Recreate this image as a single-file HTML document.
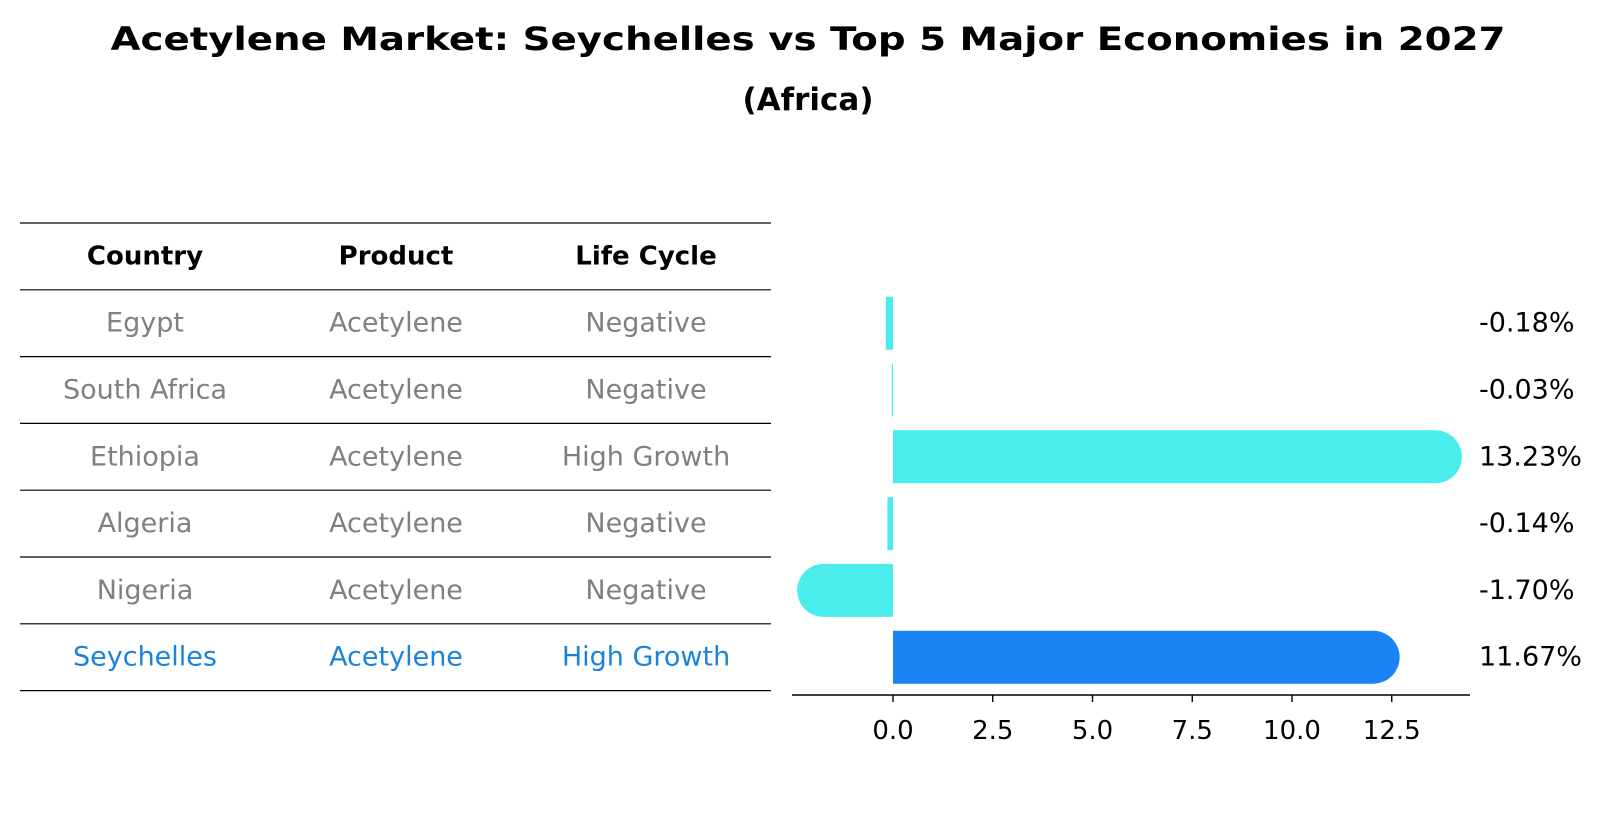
<!DOCTYPE html>
<html><head><meta charset="utf-8"><style>
html,body{margin:0;padding:0;background:#fff;}
svg{display:block;font-family:"DejaVu Sans","Liberation Sans",sans-serif;}
</style></head><body>
<svg width="1604" height="823" viewBox="0 0 1604 823">
<text x="808" y="50" text-anchor="middle" font-size="32" font-weight="bold" textLength="1395" lengthAdjust="spacingAndGlyphs">Acetylene Market: Seychelles vs Top 5 Major Economies in 2027</text>
<text x="808" y="110" text-anchor="middle" font-size="31" font-weight="bold">(Africa)</text>
<g id="table"></g>
<g id="bars"></g>
</svg>
<script>
const countries = ["Egypt","South Africa","Ethiopia","Algeria","Nigeria","Seychelles"];
const products = ["Acetylene","Acetylene","Acetylene","Acetylene","Acetylene","Acetylene"];
const lifeCycles = ["Negative","Negative","High Growth","Negative","Negative","High Growth"];
const values = [-0.18,-0.03,13.23,-0.14,-1.70,11.67];
const valueLabels = ["-0.18%","-0.03%","13.23%","-0.14%","-1.70%","11.67%"];
const xTicks = [0,2.5,5,7.5,10,12.5];
const xTickLabels = ["0.0","2.5","5.0","7.5","10.0","12.5"];

const NS="http://www.w3.org/2000/svg";
function mk(tag,attrs,parent){const e=document.createElementNS(NS,tag);for(const k in attrs)e.setAttribute(k,attrs[k]);parent.appendChild(e);return e;}
const table=document.getElementById('table');
const bars=document.getElementById('bars');
const rowTop=223, rowH=66.8, tx0=20, tx1=771;
const colX=[145,396,646];
for(let i=0;i<=countries.length+1;i++){
  const y=rowTop+i*rowH;
  const l=mk('line',{x1:tx0,x2:tx1,y1:y,y2:y,stroke:'#000','stroke-width':1.2},table);
  
  
}
const headers=["Country","Product","Life Cycle"];
headers.forEach((h,j)=>{
  const t=mk('text',{x:colX[j],y:rowTop+rowH/2,'text-anchor':'middle','dominant-baseline':'central','font-size':26,'font-weight':'bold',fill:'#000'},table);
  t.textContent=h;
  
  
});
countries.forEach((c,i)=>{
  const y=rowTop+(i+1.5)*rowH;
  const col=c==="Seychelles"?'#1a84dc':'#808080';
  [c,products[i],lifeCycles[i]].forEach((v,j)=>{
    const t=mk('text',{x:colX[j],y:y,'text-anchor':'middle','dominant-baseline':'central','font-size':27,fill:col},table);
    t.textContent=v;
    
    
  });
});
const x0=893, pxPerUnit=39.9;
function xs(v){return x0+v*pxPerUnit;}
const barH=53, axisY=695;
const ax=mk('line',{x1:792,x2:1470,y1:axisY,y2:axisY,stroke:'#000','stroke-width':1.6},bars);


xTicks.forEach((t,i)=>{
  const tk=mk('line',{x1:xs(t),x2:xs(t),y1:axisY,y2:axisY+7,stroke:'#000','stroke-width':1.4},bars);
  
  
  const lb=mk('text',{x:xs(t),y:731,'text-anchor':'middle','dominant-baseline':'central','font-size':26,fill:'#000'},bars);
  lb.textContent=xTickLabels[i];
  
  
});
values.forEach((v,i)=>{
  const cy=rowTop+(i+1.5)*rowH;
  const col=countries[i]==="Seychelles"?'#1a84f2':'#4becec';
  const r=barH/2;
  const xa=xs(0);
  let w=Math.abs(xs(v)-xa);
  const top=cy-r, bot=cy+r;
  let d;
  if(w<r){
    const l=Math.min(xa,xs(v));
    d=`M${l},${top}H${l+Math.max(w,1)}V${bot}H${l}Z`;
  } else if(v>0){
    const xb=xs(v)+41-r;
    d=`M${xa},${top}H${xb}A${r},${r} 0 0 1 ${xb},${bot}H${xa}Z`;
  } else {
    const xb=xs(v)-28+r;
    d=`M${xa},${top}H${xb}A${r},${r} 0 0 0 ${xb},${bot}H${xa}Z`;
  }
  const p=mk('path',{d:d,fill:col},bars);
  
  
  const lb=mk('text',{x:1479,y:cy,'dominant-baseline':'central','font-size':27,fill:'#000'},bars);
  lb.textContent=valueLabels[i];
  
  
});
</script>
</body></html>
